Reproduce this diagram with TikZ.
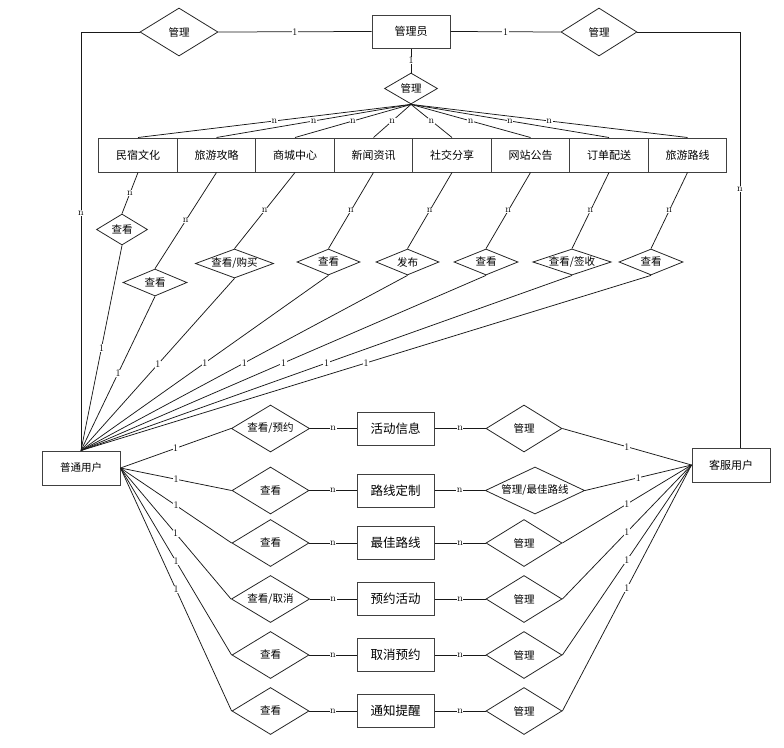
\documentclass[tikz,border=0pt]{standalone}
\usepackage{fontspec}
\newfontfamily\cjk{Noto Sans CJK SC}
\usetikzlibrary{shapes.geometric}
\tikzset{
  ent/.style={draw=black!75,line width=1pt,rectangle,minimum width=78.5,minimum height=34,inner sep=0pt,font=\cjk\fontsize{11}{13}\selectfont},
  bigent/.style={ent,minimum width=77,minimum height=33,font=\cjk\fontsize{12.5}{14}\selectfont},
  rel/.style={draw=black!85,line width=0.8pt,diamond,aspect=3,inner sep=0pt,font=\cjk\fontsize{10.5}{12}\selectfont},
  lab/.style={fill=white,inner sep=0.6pt,font=\fontsize{10}{11}\selectfont},
  con/.style={draw=black!90,line width=0.75pt}
}
\begin{document}
\begin{tikzpicture}[x=1pt,y=-1pt]
\useasboundingbox (0,0) rectangle (784,747);
\node[ent,minimum width=78,minimum height=33](admin) at (411,31.5){管理员};
\node[rel,minimum width=78,minimum height=48](mgl) at (179,32){管理};
\node[rel,minimum width=76,minimum height=48](mgr) at (599,32){管理};
\node[rel,minimum width=53,minimum height=31](mgc) at (411,88.5){管理};
\node[ent,minimum width=78,minimum height=34,font=\cjk\fontsize{10.5}{12}\selectfont](yh) at (81,468){普通用户};
\node[ent,minimum width=78,minimum height=34](kf) at (731,465){客服用户};
\draw[con](mgl.east)--node[lab]{1}(admin.west);
\draw[con](admin.east)--node[lab]{1}(mgr.west);
\draw[con](admin.south)--node[lab]{1}(mgc.north);
\draw[con](mgl.west)-|node[lab,pos=0.716]{n}(yh.north);
\draw[con](mgr.east)-|node[lab,pos=0.689]{n}([xshift=9]kf.north);
\foreach \i/\x/\t in {1/138/民宿文化,2/216.5/旅游攻略,3/295/商城中心,4/373.5/新闻资讯,5/452/社交分享,6/530.5/网站公告,7/609/订单配送,8/687.5/旅游路线}
  \node[ent](e\i) at (\x,155){\t};
\foreach \i/\x/\y/\w/\h/\t in {1/122/229.5/51/31/查看,2/155/282.5/64/27/查看,3/234.5/263.5/73/29/{查看/购买},4/328.5/262/63/26/查看,5/407.5/262/63/26/发布,6/486/262/64/26/查看,7/572/262/78/26/{查看/签收},8/651/262/64/26/查看}
  \node[rel,minimum width=\w,minimum height=\h](v\i) at (\x,\y){\t};
\foreach \i in {1,...,8}{
  \draw[con](mgc.south)--node[lab]{n}(e\i.north);
  \draw[con](e\i.south)--node[lab]{n}(v\i.north);
  \draw[con](v\i.south)--node[lab]{1}(yh.north);
}
\foreach \i/\y/\a/\b/\c/\x/\w in {1/428.5/{查看/预约}/活动信息/管理/524/76,2/490.5/查看/路线定制/{管理/最佳路线}/535/98,3/543/查看/最佳路线/管理/524/76,4/599/{查看/取消}/预约活动/管理/524/76,5/655/查看/取消预约/管理/524/76,6/711/查看/通知提醒/管理/524/76}{
  \node[rel,minimum width=77,minimum height=47](a\i) at (270.5,\y){\a};
  \node[bigent](b\i) at (395.5,\y){\b};
  \node[rel,minimum width=\w,minimum height=47](c\i) at (\x,\y){\c};
  \draw[con](yh.east)--node[lab]{1}(a\i.west);
  \draw[con](a\i.east)--node[lab]{n}(b\i.west);
  \draw[con](b\i.east)--node[lab]{n}(c\i.west);
  \draw[con](c\i.east)--node[lab]{1}(kf.west);
}
\end{tikzpicture}
\end{document}
